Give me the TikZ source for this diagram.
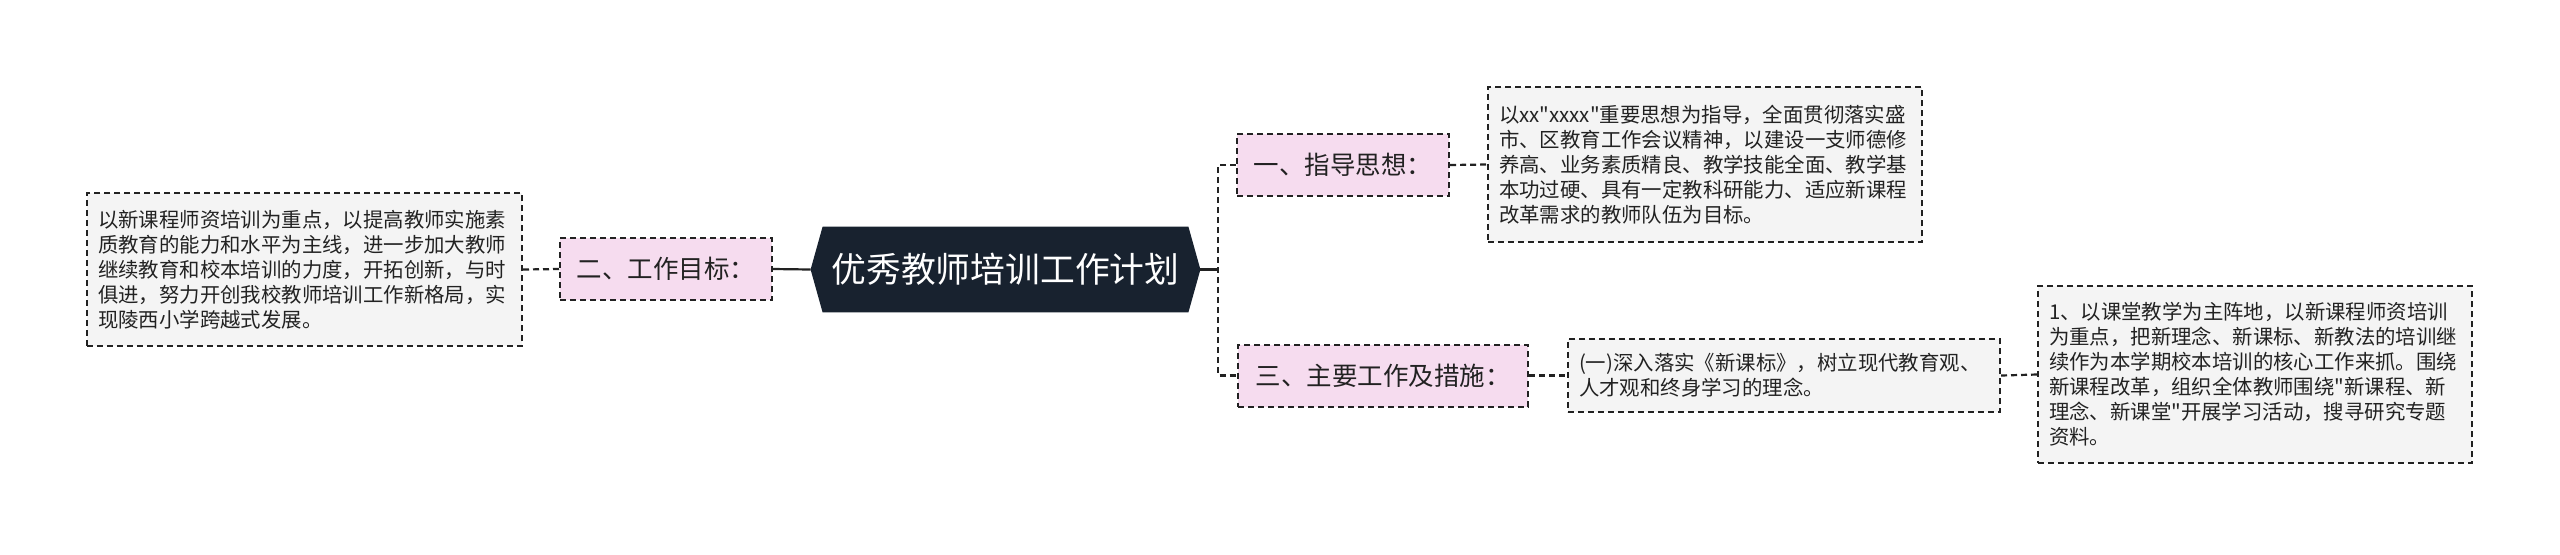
\documentclass[tikz,border=0pt]{standalone}
\usepackage{fontspec}
\newfontfamily\cjk{Noto Sans CJK SC}
\usetikzlibrary{calc,backgrounds}
\definecolor{pinkfill}{HTML}{F6DCEF}
\definecolor{grayfill}{HTML}{F4F4F4}
\definecolor{hexfill}{HTML}{18222F}
\definecolor{linec}{HTML}{222222}
\definecolor{textc}{HTML}{222222}
\tikzset{
  graybox/.style={draw=linec, fill=grayfill, line width=1pt, dash pattern=on 3pt off 2pt,
    inner xsep=5.5pt, inner ysep=0pt, align=left, text=textc,
    font=\cjk\fontsize{10.2}{12.5}\selectfont},
  pinkbox/.style={draw=linec, fill=pinkfill, line width=1pt, dash pattern=on 3pt off 2pt,
    inner sep=0pt, minimum height=31pt, text=textc,
    font=\cjk\fontsize{12.75}{15}\selectfont},
  hexnode/.style={inner sep=0pt, minimum width=194.5pt, minimum height=42.5pt,
    text=white, font=\cjk\fontsize{17.4}{20}\selectfont},
  dashline/.style={draw=linec, line width=1.1pt, dash pattern=on 3pt off 2pt},
  solidline/.style={draw=linec, line width=1.1pt},
}
\begin{document}
\begin{tikzpicture}[x=0.5pt,y=-0.5pt]
\useasboundingbox (0,0) rectangle (2560,554);
\node[graybox, text width=206.5pt, minimum height=76.5pt] (L) at (304.5,269.5)
  {以新课程师资培训为重点，以提高教师实施素\\质教育的能力和水平为主线，进一步加大教师\\继续教育和校本培训的力度，开拓创新，与时\\俱进，努力开创我校教师培训工作新格局，实\\现陵西小学跨越式发展。};
\node[pinkbox, minimum width=106pt] (P2) at (666,269) {二、工作目标：};
\node[hexnode] (H) at (1005.5,269.5) {优秀教师培训工作计划};
\node[pinkbox, minimum width=106pt] (P1) at (1343,165) {一、指导思想：};
\node[graybox, text width=206pt, minimum height=77.5pt] (G1) at (1705,164.5)
  {以xx"xxxx"重要思想为指导，全面贯彻落实盛\\市、区教育工作会议精神，以建设一支师德修\\养高、业务素质精良、教学技能全面、教学基\\本功过硬、具有一定教科研能力、适应新课程\\改革需求的教师队伍为目标。};
\node[pinkbox, minimum width=145pt] (P3) at (1383,375.5) {三、主要工作及措施：};
\node[graybox, text width=205pt, minimum height=36.5pt] (G2) at (1784,375.5)
  {(一)深入落实《新课标》，树立现代教育观、\\人才观和终身学习的理念。};
\node[graybox, text width=206pt, minimum height=88.5pt] (G3) at (2255,374.5)
  {1、以课堂教学为主阵地，以新课程师资培训\\为重点，把新理念、新课标、新教法的培训继\\续作为本学期校本培训的核心工作来抓。围绕\\新课程改革，组织全体教师围绕"新课程、新\\理念、新课堂"开展学习活动，搜寻研究专题\\资料。};
\coordinate (J) at (1218,269.5);
\draw[dashline] (L.east) -- (P2.west);
\draw[solidline] (P2.east) -- (H.west);
\draw[solidline] (H.east) -- (J);
\draw[dashline] (P1.west) -| (J) |- (P3.west);
\draw[dashline] (P1.east) -- (G1.west);
\draw[dashline] (P3.east) -- (G2.west);
\draw[dashline] (G2.east) -- (G3.west);
\begin{scope}[on background layer]
  \fill[white] (0,0) rectangle (2560,554);
  \fill[hexfill] (H.west) -- ($(H.north west)+(12,0)$) -- ($(H.north east)+(-12,0)$)
    -- (H.east) -- ($(H.south east)+(-12,0)$) -- ($(H.south west)+(12,0)$) -- cycle;
\end{scope}
\end{tikzpicture}
\end{document}
